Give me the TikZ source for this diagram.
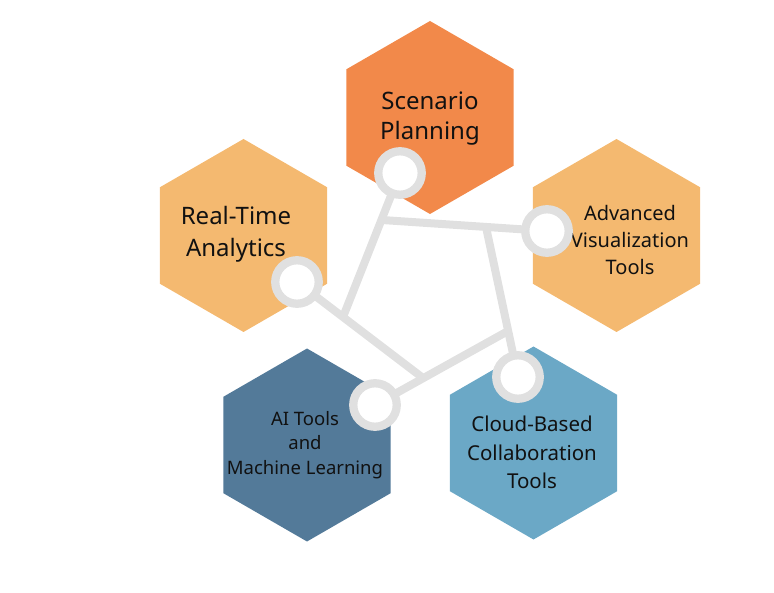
\documentclass[tikz,border=0pt]{standalone}
\usepackage{fontspec}
\setmainfont{Noto Sans}
\usetikzlibrary{shapes.geometric}
\definecolor{cOrange}{HTML}{F2894A}
\definecolor{cLight}{HTML}{F4B970}
\definecolor{cDark}{HTML}{537A99}
\definecolor{cBlue}{HTML}{6BA8C6}
\definecolor{cGray}{HTML}{E0E0E0}
\definecolor{cText}{HTML}{111111}
\begin{document}
\begin{tikzpicture}[x=1pt,y=-1pt,
  hexa/.style={regular polygon, regular polygon sides=6, shape border rotate=30,
    minimum size=193pt, inner sep=0pt, draw=none},
  dot/.style={circle, minimum size=43.5pt, inner sep=0pt, draw=cGray,
    line width=8.3pt, fill=white},
  spoke/.style={draw=cGray, line width=8pt},
  lbl/.style={align=center, text=cText, inner sep=0pt}]
\useasboundingbox (0,0) rectangle (774,593);
% hexagons
\node[hexa, fill=cOrange] (hS) at (430,117.5) {};
\node[hexa, fill=cLight]  (hR) at (243.5,235.5) {};
\node[hexa, fill=cLight]  (hA) at (616.5,235.5) {};
\node[hexa, fill=cDark]   (hI) at (307,445) {};
\node[hexa, fill=cBlue]   (hC) at (533.5,443) {};
% labels
\node[lbl, font=\fontsize{24}{30}\selectfont] (tS) at (430,119) {Scenario\\Planning};
\node[lbl, font=\fontsize{24}{32}\selectfont] (tR) at (236,234.5) {Real-Time\\Analytics};
\node[lbl, font=\fontsize{20}{27}\selectfont] (tA) at (630,240) {Advanced\\Visualization\\Tools};
\node[lbl, font=\fontsize{18.5}{24.5}\selectfont] (tI) at (305,445) {AI Tools\\and\\Machine Learning};
\node[lbl, font=\fontsize{20.5}{28.5}\selectfont] (tC) at (532,452.5) {Cloud-Based\\Collaboration\\Tools};
% circle centres and junctions
\coordinate (kS) at (400,173);
\coordinate (kA) at (547,231);
\coordinate (kR) at (297,282);
\coordinate (kI) at (375,405);
\coordinate (kC) at (518,377);
\coordinate (p1) at (343,317);
\coordinate (p2) at (382,220);
\coordinate (p3) at (486,227);
\coordinate (p4) at (423,378);
\coordinate (p5) at (508,331);
% spokes
\draw[spoke] (kS) -- (p1);
\draw[spoke] (p2) -- (kA);
\draw[spoke] (p3) -- (kC);
\draw[spoke] (kR) -- (p4);
\draw[spoke] (kI) -- (p5);
% circles
\node[dot] (cS) at (kS) {};
\node[dot] (cA) at (kA) {};
\node[dot] (cR) at (kR) {};
\node[dot] (cI) at (kI) {};
\node[dot] (cC) at (kC) {};
\end{tikzpicture}
\end{document}
